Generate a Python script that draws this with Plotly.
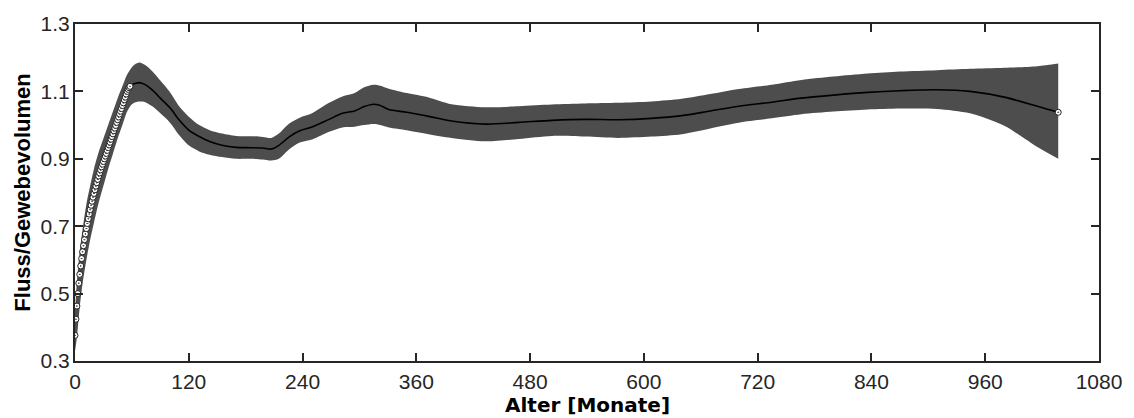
import plotly.graph_objects as go

# ---- data ----
marker_months = list(range(0, 59))
marker_values = [0.376, 0.424, 0.463, 0.500, 0.531, 0.557, 0.582, 0.604, 0.624, 0.642,
                 0.660, 0.677, 0.693, 0.708, 0.722, 0.736, 0.749, 0.762, 0.774, 0.786,
                 0.797, 0.808, 0.819, 0.829, 0.839, 0.849, 0.858, 0.867, 0.876, 0.884,
                 0.892, 0.900, 0.908, 0.916, 0.925, 0.933, 0.941, 0.949, 0.958, 0.966,
                 0.974, 0.983, 0.991, 0.999, 1.008, 1.016, 1.024, 1.033, 1.041, 1.049,
                 1.058, 1.066, 1.075, 1.083, 1.092, 1.100, 1.106, 1.111, 1.115]

end_month = [1037]
end_value = [1.038]

band_months = [0, 2, 5, 8, 12, 16, 20, 25, 30, 35, 40, 45, 50, 55, 60, 64, 68, 74, 82, 90,
               100, 110, 120, 131, 142, 155, 170, 185, 198, 207, 215, 226, 237, 250, 268,
               282, 295, 305, 315, 322, 331, 350, 373, 397, 433, 468, 503, 538, 573, 608,
               640, 670, 700, 735, 766, 800, 836, 870, 909, 944, 980, 1015, 1037]
band_upper = [0.45, 0.535, 0.625, 0.69, 0.765, 0.82, 0.87, 0.92, 0.96, 1.0, 1.04, 1.08,
              1.115, 1.15, 1.172, 1.182, 1.186, 1.178, 1.158, 1.132, 1.098, 1.055, 1.025,
              1.0, 0.985, 0.975, 0.968, 0.967, 0.965, 0.962, 0.975, 1.005, 1.022, 1.035,
              1.066, 1.085, 1.095, 1.112, 1.12, 1.117, 1.108, 1.095, 1.082, 1.062, 1.053,
              1.056, 1.061, 1.064, 1.066, 1.07, 1.078, 1.092, 1.107, 1.12, 1.134, 1.144,
              1.153, 1.159, 1.163, 1.167, 1.17, 1.175, 1.183]
band_lower = [0.33, 0.37, 0.46, 0.53, 0.60, 0.66, 0.71, 0.77, 0.82, 0.87, 0.915, 0.96,
              1.0, 1.04, 1.062, 1.068, 1.07, 1.068, 1.055, 1.035, 1.008, 0.97, 0.94,
              0.922, 0.912, 0.905, 0.9, 0.9, 0.898, 0.895, 0.9, 0.928, 0.948, 0.957,
              0.98, 0.993, 0.995, 1.0, 1.003, 1.0, 0.993, 0.985, 0.973, 0.962, 0.952,
              0.959, 0.968, 0.966, 0.962, 0.966, 0.973, 0.99, 1.007, 1.02, 1.032, 1.04,
              1.046, 1.049, 1.048, 1.035, 0.998, 0.935, 0.9]

line_months = [58, 60, 64, 68, 74, 82, 90, 100, 110, 120, 131, 142, 155, 170, 185, 198,
               207, 215, 226, 237, 250, 268, 282, 295, 305, 315, 322, 331, 350, 373, 397,
               433, 468, 503, 538, 573, 608, 640, 670, 700, 735, 766, 800, 836, 870, 909,
               944, 980, 1015, 1037]
line_values = [1.115, 1.12, 1.124, 1.126, 1.12, 1.103, 1.08, 1.052, 1.015, 0.985, 0.966,
               0.951, 0.94, 0.934, 0.933, 0.932, 0.929, 0.94, 0.965, 0.983, 0.994, 1.017,
               1.035, 1.042, 1.055, 1.062, 1.058, 1.046, 1.038, 1.026, 1.012, 1.003,
               1.008, 1.014, 1.017, 1.016, 1.02, 1.028, 1.042, 1.056, 1.068, 1.08, 1.089,
               1.097, 1.102, 1.105, 1.1, 1.083, 1.056, 1.038]

x_ticks = [0, 120, 240, 360, 480, 600, 720, 840, 960, 1080]
y_ticks = [0.3, 0.5, 0.7, 0.9, 1.1, 1.3]
x_title = "Alter [Monate]"
y_title = "Fluss/Gewebevolumen"

# ---- figure ----
band_color = "#4d4d4d"
axis_color = "#262626"

fig = go.Figure()
fig.add_trace(go.Scatter(x=band_months, y=band_lower, mode="lines",
                         line=dict(width=0, shape="spline", smoothing=0.8, color=band_color),
                         hoverinfo="skip", showlegend=False))
fig.add_trace(go.Scatter(x=band_months, y=band_upper, mode="lines", fill="tonexty",
                         fillcolor=band_color,
                         line=dict(width=0, shape="spline", smoothing=0.8, color=band_color),
                         hoverinfo="skip", showlegend=False))
fig.add_trace(go.Scatter(x=line_months, y=line_values, mode="lines",
                         line=dict(color="black", width=1.6, shape="spline", smoothing=0.8),
                         showlegend=False))
marker_style = dict(symbol="circle-dot", size=6, color="white",
                    line=dict(color="#222222", width=1))
fig.add_trace(go.Scatter(x=marker_months, y=marker_values, mode="markers",
                         marker=marker_style, showlegend=False))
fig.add_trace(go.Scatter(x=end_month, y=end_value, mode="markers",
                         marker=marker_style, showlegend=False))

tickfont = dict(family="Liberation Sans, Arial, sans-serif", size=21, color=axis_color)
fig.update_layout(
    width=1134, height=418,
    margin=dict(l=75, r=31, t=18, b=57),
    plot_bgcolor="white", paper_bgcolor="white",
    xaxis=dict(range=[0, 1080], tickvals=x_ticks, ticks="inside", ticklen=8, tickwidth=1.5,
               tickcolor=axis_color, showline=True, linecolor=axis_color, linewidth=2,
               mirror="ticks", showgrid=False, zeroline=False, tickfont=tickfont,
               ticklabelstandoff=1),
    yaxis=dict(range=[0.3, 1.3], tickvals=y_ticks, ticktext=[f"{v:.1f}" for v in y_ticks],
               ticks="inside", ticklen=8, tickwidth=1.5, tickcolor=axis_color,
               showline=True, linecolor=axis_color, linewidth=2, mirror="ticks",
               showgrid=False, zeroline=False, tickfont=tickfont, ticklabelstandoff=-1),
    annotations=[
        dict(text=f"<b>{x_title}</b>", xref="paper", yref="paper", x=0.5, y=-0.131,
             xanchor="center", yanchor="middle", showarrow=False,
             font=dict(family="DejaVu Sans", size=20, color="black")),
        dict(text=f"<b>{y_title}</b>", xref="paper", yref="paper", x=-0.0516, y=0.5,
             xanchor="center", yanchor="middle", textangle=-90, showarrow=False,
             font=dict(family="Liberation Sans, Arial, sans-serif", size=22, color="black")),
    ],
)

fig.write_html("out.html")
